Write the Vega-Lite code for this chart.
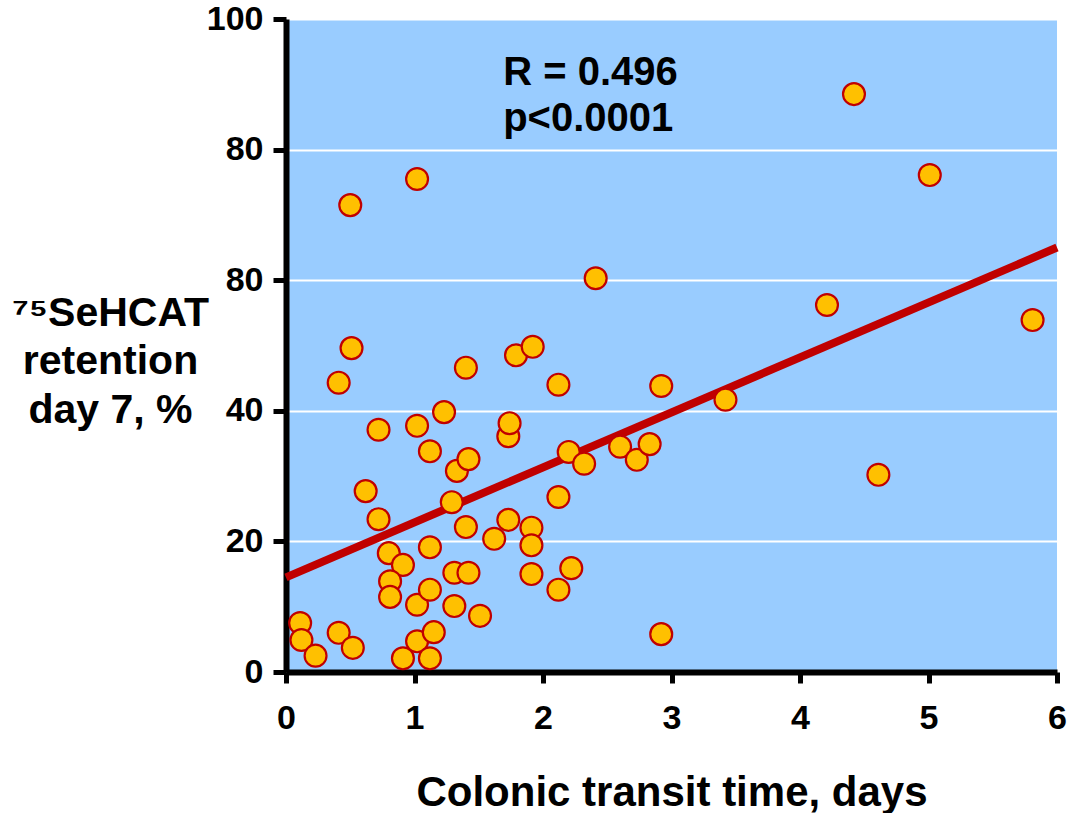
{
  "$schema": "https://vega.github.io/schema/vega-lite/v6.json",
  "width": 771,
  "height": 653,
  "autosize": {"type": "none"},
  "padding": {"left": 286, "top": 19, "right": 10, "bottom": 141},
  "background": "white",
  "config": {
    "view": {"fill": "#99CCFF", "stroke": null},
    "font": "Liberation Sans"
  },
  "datasets": {
    "points": [
      {"transit": 0.11, "retention": 7.5},
      {"transit": 0.12, "retention": 4.9},
      {"transit": 0.23, "retention": 2.5},
      {"transit": 0.41, "retention": 6.0},
      {"transit": 0.52, "retention": 3.7},
      {"transit": 0.50, "retention": 71.5},
      {"transit": 1.02, "retention": 75.5},
      {"transit": 0.51, "retention": 49.6},
      {"transit": 0.41, "retention": 44.3},
      {"transit": 0.72, "retention": 37.1},
      {"transit": 0.62, "retention": 27.7},
      {"transit": 0.72, "retention": 23.4},
      {"transit": 0.80, "retention": 18.2},
      {"transit": 0.91, "retention": 16.4},
      {"transit": 0.81, "retention": 13.9},
      {"transit": 0.81, "retention": 11.5},
      {"transit": 0.91, "retention": 2.1},
      {"transit": 1.02, "retention": 10.3},
      {"transit": 1.02, "retention": 4.7},
      {"transit": 1.12, "retention": 2.1},
      {"transit": 1.15, "retention": 6.1},
      {"transit": 1.12, "retention": 12.6},
      {"transit": 1.12, "retention": 19.1},
      {"transit": 1.02, "retention": 37.7},
      {"transit": 1.12, "retention": 33.8},
      {"transit": 1.23, "retention": 39.8},
      {"transit": 1.33, "retention": 30.8},
      {"transit": 1.42, "retention": 32.6},
      {"transit": 1.40, "retention": 46.6},
      {"transit": 1.29, "retention": 26.0},
      {"transit": 1.40, "retention": 22.2},
      {"transit": 1.31, "retention": 15.2},
      {"transit": 1.42, "retention": 15.2},
      {"transit": 1.31, "retention": 10.1},
      {"transit": 1.51, "retention": 8.6},
      {"transit": 1.62, "retention": 20.4},
      {"transit": 1.73, "retention": 23.3},
      {"transit": 1.73, "retention": 36.1},
      {"transit": 1.74, "retention": 38.1},
      {"transit": 1.79, "retention": 48.5},
      {"transit": 1.92, "retention": 49.8},
      {"transit": 1.91, "retention": 22.1},
      {"transit": 1.91, "retention": 19.4},
      {"transit": 1.91, "retention": 15.0},
      {"transit": 2.12, "retention": 44.0},
      {"transit": 2.12, "retention": 26.8},
      {"transit": 2.12, "retention": 12.6},
      {"transit": 2.20, "retention": 33.7},
      {"transit": 2.22, "retention": 15.9},
      {"transit": 2.32, "retention": 31.9},
      {"transit": 2.41, "retention": 60.3},
      {"transit": 2.60, "retention": 34.5},
      {"transit": 2.73, "retention": 32.5},
      {"transit": 2.83, "retention": 34.9},
      {"transit": 2.92, "retention": 43.8},
      {"transit": 2.92, "retention": 5.8},
      {"transit": 3.42, "retention": 41.7},
      {"transit": 4.21, "retention": 56.2},
      {"transit": 4.42, "retention": 88.5},
      {"transit": 4.61, "retention": 30.2},
      {"transit": 5.01, "retention": 76.1},
      {"transit": 5.81, "retention": 53.9}
    ],
    "fit": [
      {"transit": 0, "retention": 14.5},
      {"transit": 6, "retention": 65.0}
    ],
    "notes": [
      {"transit": 1.69, "retention": 89.9, "label": "R = 0.496"},
      {"transit": 1.69, "retention": 82.8, "label": "p<0.0001"}
    ]
  },
  "encoding": {
    "x": {
      "field": "transit",
      "type": "quantitative",
      "scale": {"domain": [0, 6], "nice": false, "zero": false},
      "axis": {
        "title": "Colonic transit time, days",
        "values": [0, 1, 2, 3, 4, 5, 6],
        "grid": false,
        "domainColor": "black",
        "domainWidth": 6,
        "tickColor": "black",
        "tickWidth": 5,
        "tickSize": 11,
        "labelFont": "Liberation Sans",
        "labelFontWeight": "bold",
        "labelFontSize": 34,
        "labelColor": "black",
        "labelBaseline": "alphabetic",
        "labelPadding": 45,
        "labelFlush": false,
        "labelOverlap": false,
        "titleFont": "Liberation Sans",
        "titleFontWeight": "bold",
        "titleFontSize": 42,
        "titleColor": "black",
        "titleBaseline": "alphabetic",
        "titleY": 133
      }
    },
    "y": {
      "field": "retention",
      "type": "quantitative",
      "scale": {"domain": [0, 100], "nice": false, "zero": false},
      "axis": {
        "title": ["⁷⁵SeHCAT", "retention", "day 7, %"],
        "values": [0, 20, 40, 60, 80, 100],
        "labelExpr": "datum.value == 60 ? '80' : datum.label",
        "grid": true,
        "gridColor": "white",
        "gridWidth": 2,
        "gridOpacity": 1,
        "domainColor": "black",
        "domainWidth": 6,
        "tickColor": "black",
        "tickWidth": 5,
        "tickSize": 13,
        "labelFont": "Liberation Sans",
        "labelFontWeight": "bold",
        "labelFontSize": 34,
        "labelColor": "black",
        "labelPadding": 10,
        "labelFlush": false,
        "labelOverlap": false,
        "titleFont": "Liberation Sans",
        "titleFontWeight": "bold",
        "titleFontSize": 41,
        "titleColor": "black",
        "titleAngle": 0,
        "titleAlign": "center",
        "titleBaseline": "alphabetic",
        "titleLineHeight": 48.5,
        "titleX": -176,
        "titleY": 306
      }
    }
  },
  "layer": [
    {
      "data": {"name": "fit"},
      "mark": {"type": "line", "color": "#C00000", "strokeWidth": 8, "strokeCap": "butt"}
    },
    {
      "data": {"name": "points"},
      "mark": {
        "type": "point",
        "shape": "circle",
        "filled": true,
        "fill": "#FFC000",
        "stroke": "#C00000",
        "strokeWidth": 2.2,
        "size": 480,
        "opacity": 1
      }
    },
    {
      "data": {"name": "notes"},
      "mark": {
        "type": "text",
        "align": "left",
        "baseline": "alphabetic",
        "font": "Liberation Sans",
        "fontWeight": "bold",
        "fontSize": 40,
        "color": "black"
      },
      "encoding": {"text": {"field": "label"}}
    }
  ]
}
